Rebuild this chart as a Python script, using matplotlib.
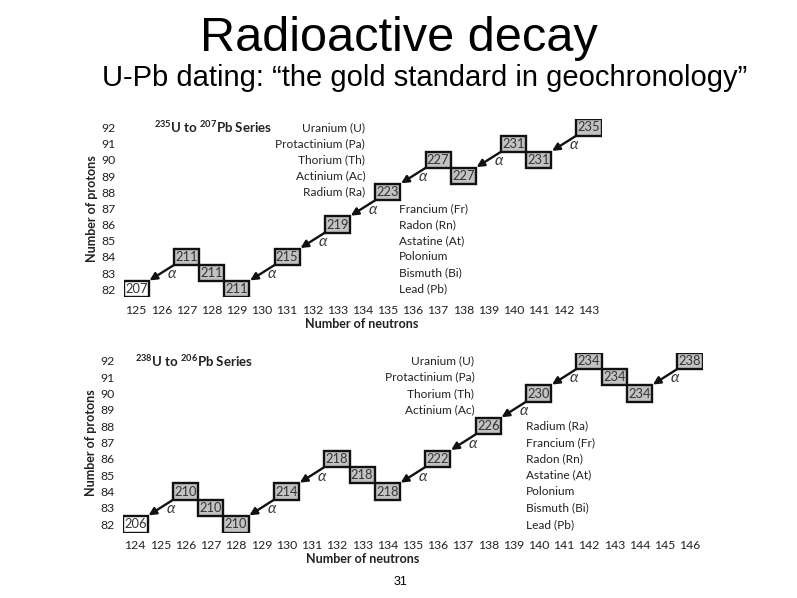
import numpy as np
import matplotlib
matplotlib.use("Agg")
from matplotlib import pyplot as plt
from matplotlib import font_manager
from matplotlib.patches import Rectangle


def pick(*names):
    have = {f.name for f in font_manager.fontManager.ttflist}
    for n in names:
        if n in have:
            return n
    return "DejaVu Sans"


body = pick("Lato", "Open Sans", "Noto Sans")
head = pick("Liberation Sans", "DejaVu Sans")
plt.rcParams["mathtext.default"] = "regular"

# nuclides of each series: mass number, neutrons, protons, alpha decay (1) or not
u235_mass = [235, 231, 231, 227, 227, 223, 219, 215, 211, 211, 211, 207]
u235_n = [143, 141, 140, 138, 137, 135, 133, 131, 129, 128, 127, 125]
u235_z = [92, 90, 91, 89, 90, 88, 86, 84, 82, 83, 84, 82]
u235_alpha = [1, 0, 1, 0, 1, 1, 1, 1, 0, 0, 1, 0]

u238_mass = [238, 234, 234, 234, 230, 226, 222, 218, 218, 218, 214, 210, 210, 210, 206]
u238_n = [146, 144, 143, 142, 140, 138, 136, 134, 133, 132, 130, 128, 127, 126, 124]
u238_z = [92, 90, 91, 92, 90, 88, 86, 84, 85, 86, 84, 82, 83, 84, 82]
u238_alpha = [1, 0, 0, 1, 1, 1, 1, 0, 0, 1, 1, 0, 0, 1, 0]

elements = ["Uranium (U)", "Protactinium (Pa)", "Thorium (Th)", "Actinium (Ac)",
            "Radium (Ra)", "Francium (Fr)", "Radon (Rn)", "Astatine (At)",
            "Polonium", "Bismuth (Bi)", "Lead (Pb)"]
protons = list(range(92, 81, -1))

ink = "#222222"


def series(ax, mass, n, z, alpha, title, nmin, nmax, n_right, n_left, n_split):
    for i in range(len(mass)):
        fc = "white" if i == len(mass) - 1 else "#c2c2c2"
        ax.add_patch(Rectangle((n[i] - 0.5, z[i] - 0.5), 1, 1, fc=fc, ec="#111111", lw=1.7, zorder=2))
        ax.text(n[i], z[i], str(mass[i]), ha="center", va="center", fontsize=9.3,
                family=body, color="#333333", zorder=3)
        if alpha[i]:
            ax.annotate("", xy=(n[i] - 1.47, z[i] - 1.45), xytext=(n[i] - 0.5, z[i] - 0.5),
                        arrowprops=dict(arrowstyle="-|>", color="#111111", lw=1.7,
                                        mutation_scale=11, shrinkA=0, shrinkB=0), zorder=4)
            ax.text(n[i] - 0.6, z[i] - 1.08, "α", ha="center", va="center", fontsize=11,
                    style="italic", family=[body, "DejaVu Sans"], color="#333333")
    for k, (name, p) in enumerate(zip(elements, protons)):
        if k < n_split:
            ax.text(n_right, p, name, ha="right", va="center", fontsize=8.6, family=body, color=ink)
        else:
            ax.text(n_left, p, name, ha="left", va="center", fontsize=8.6, family=body, color=ink)
    ax.text(nmin + 0.5 + title[1], 92, title[0], ha="left", va="center", fontsize=9.5,
            family=body, weight="bold", color=ink)
    ax.set_xlim(nmin - 0.5, nmax + 0.5)
    ax.set_ylim(81.5, 92.5)
    ax.set_xticks(range(nmin, nmax + 1))
    ax.set_yticks(protons)
    ax.tick_params(length=0, labelsize=8.8, labelcolor=ink, pad=5.5)
    for lab in ax.get_xticklabels() + ax.get_yticklabels():
        lab.set_family(body)
    for s in ax.spines.values():
        s.set_visible(False)


fig = plt.figure(figsize=(7.97, 5.98), dpi=100)

ax1 = fig.add_axes([0.1551, 0.5027, 0.5998, 0.2977])
series(ax1, u235_mass, u235_n, u235_z, u235_alpha, (r"$^{235}$U to $^{207}$Pb Series", 0.2),
       125, 143, 134.1, 135.45, 5)
ax1.set_ylabel("Number of protons", fontsize=9, family=body, weight="bold", color=ink, labelpad=3)

ax2 = fig.add_axes([0.1538, 0.1095, 0.7277, 0.3008])
series(ax2, u238_mass, u238_n, u238_z, u238_alpha, (r"$^{238}$U to $^{206}$Pb Series", -0.5),
       124, 146, 137.45, 139.5, 4)
ax2.set_ylabel("Number of protons", fontsize=9, family=body, weight="bold", color=ink, labelpad=3)

fig.text(362 / 797, 1 - 324 / 598, "Number of neutrons", ha="center", va="center",
         fontsize=9, family=body, weight="bold", color=ink)
fig.text(363 / 797, 1 - 559 / 598, "Number of neutrons", ha="center", va="center",
         fontsize=9, family=body, weight="bold", color=ink)

fig.text(399 / 797, 1 - 51 / 598, "Radioactive decay", ha="center", va="baseline",
         fontsize=35, family=head, color="black")
fig.text(425 / 797, 1 - 86 / 598, "U-Pb dating: \u201cthe gold standard in geochronology\u201d",
         ha="center", va="baseline", fontsize=21, family=head, color="black")
fig.text(400 / 797, 1 - 585 / 598, "31", ha="center", va="baseline", fontsize=9,
         family=head, color="black")

fig.savefig("out.png", dpi=100)
